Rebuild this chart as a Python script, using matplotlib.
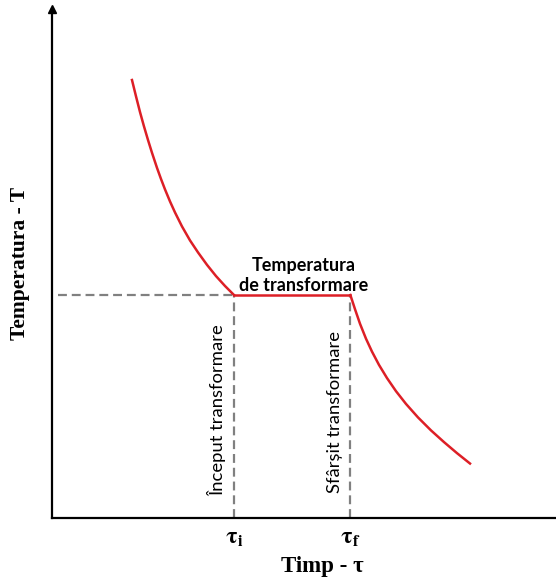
import matplotlib.pyplot as plt

# curba de racire (unitati arbitrare)
t_racire1 = [1.587, 1.667, 1.746, 1.825, 1.905, 1.984, 2.083, 2.163, 2.242, 2.341,
             2.440, 2.579, 2.738, 2.897, 3.075, 3.254, 3.433, 3.611]
T_racire1 = [8.605, 8.283, 7.976, 7.694, 7.426, 7.175, 6.880, 6.660, 6.456, 6.220,
             6.004, 5.729, 5.454, 5.218, 4.974, 4.753, 4.558, 4.381]
t_palier = [3.611, 5.92]
T_palier = [4.381, 4.381]
t_racire2 = [5.92, 6.012, 6.111, 6.230, 6.349, 6.488, 6.647, 6.825, 7.024, 7.262,
             7.520, 7.778, 8.036, 8.294]
T_racire2 = [4.381, 4.102, 3.817, 3.523, 3.269, 3.008, 2.749, 2.492, 2.241, 1.976,
             1.721, 1.491, 1.274, 1.070]

tau_i = 3.611
tau_f = 5.92
T_transf = 4.381
tick_labels = [r'$\mathbf{\tau_i}$', r'$\mathbf{\tau_f}$']

red = '#dd1f26'
grey = '#808080'

plt.rcParams['mathtext.fontset'] = 'stix'

fig = plt.figure(figsize=(5.56, 5.81), dpi=100)
ax = fig.add_axes([52 / 556, 63 / 581, 504 / 556, 509 / 581])
ax.set_xlim(0, 10)
ax.set_ylim(0, 10)

# linii punctate
dash = (0, (4, 2.2))
ax.plot([0.12, tau_i], [T_transf, T_transf], color=grey, lw=1.6, ls=dash)
ax.plot([tau_i, tau_i], [0, T_transf], color=grey, lw=1.6, ls=dash)
ax.plot([tau_f, tau_f], [0, T_transf], color=grey, lw=1.6, ls=dash)

# curba
ax.plot(t_racire1, T_racire1, color=red, lw=1.8, solid_joinstyle='round')
ax.plot(t_palier, T_palier, color=red, lw=1.8)
ax.plot(t_racire2, T_racire2, color=red, lw=1.8, solid_joinstyle='round')

# axe
for s in ['top', 'right']:
    ax.spines[s].set_visible(False)
for s in ['left', 'bottom']:
    ax.spines[s].set_linewidth(1.6)
ax.plot(0, 1, marker='^', color='black', markersize=6, transform=ax.transAxes, clip_on=False)

ax.set_yticks([])
ax.set_xticks([tau_i, tau_f])
ax.set_xticklabels(tick_labels, fontsize=17)
ax.tick_params(axis='x', length=0, pad=5)

serif = dict(family='Liberation Serif', weight='bold')
ax.set_xlabel('Timp - τ', labelpad=1, fontsize=16.5, **serif)
ax.xaxis.set_label_coords(0.536, -0.075)
ax.set_ylabel('Temperatura - T', labelpad=16, fontsize=15.5, **serif)

ax.text(4.99, 4.40, 'Temperatura\nde transformare', ha='center', va='bottom',
        family='Lato', weight='bold', fontsize=13, linespacing=1.25)
ax.text(tau_i - 0.34, 2.12, 'Început transformare', rotation=90, ha='center', va='center',
        family='Lato', fontsize=13.3)
ax.text(tau_f - 0.30, 2.08, 'Sfârșit transformare', rotation=90, ha='center', va='center',
        family='Lato', fontsize=13.3)

fig.savefig('out.png', dpi=100)
